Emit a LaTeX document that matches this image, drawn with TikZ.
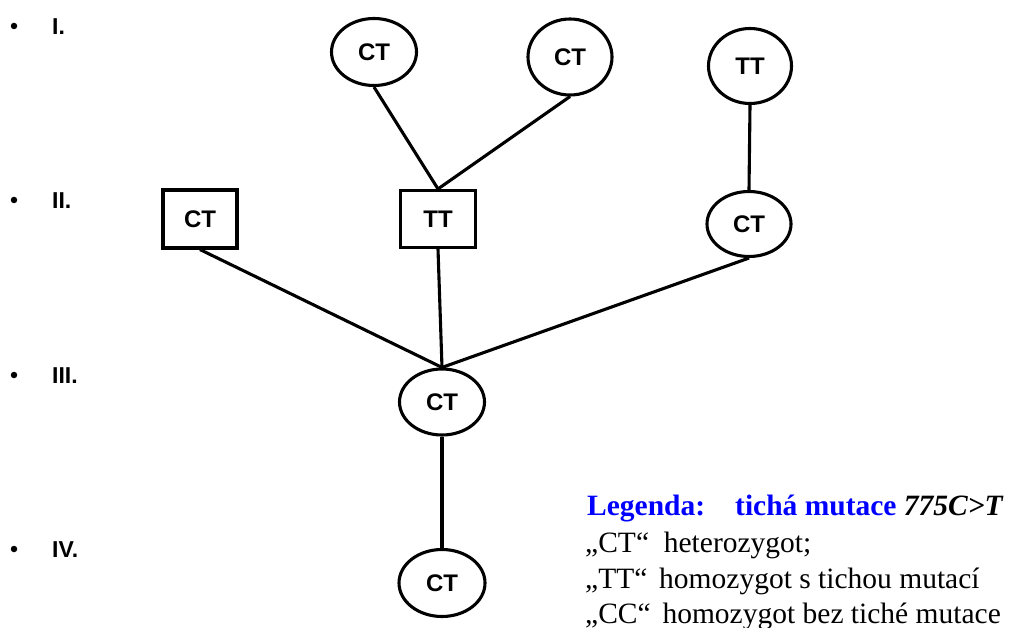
\documentclass[tikz,border=0pt]{standalone}
\usepackage{fontspec}
\setmainfont{Liberation Serif}
\newfontfamily\arialfont{Liberation Sans}
\usetikzlibrary{shapes.geometric}
\definecolor{legblue}{RGB}{0,0,255}
\tikzset{
  person/.style={draw, line width=3.1pt, inner sep=0pt,
    font=\arialfont\bfseries\fontsize{24}{28}\selectfont},
  female/.style={person, ellipse},
  male/.style={person, rectangle},
  link/.style={line width=3.1pt},
  gen/.style={font=\arialfont\bfseries\fontsize{23}{27}\selectfont, anchor=west, inner sep=0pt},
  bul/.style={circle, fill, inner sep=0pt, minimum size=6.5pt},
  leg/.style={font=\fontsize{29.5}{37}\selectfont, anchor=base west, inner sep=0pt},
}
\begin{document}
\begin{tikzpicture}[x=1pt,y=-1pt]
\useasboundingbox (0,0) rectangle (1011,628);
% generation labels
\node[bul] (b1) at (14,26) {};
\node[gen] (g1) at (52,27) {I.};
\node[bul] (b2) at (14,200) {};
\node[gen] (g2) at (52,201) {II.};
\node[bul] (b3) at (14,375) {};
\node[gen] (g3) at (52,376) {III.};
\node[bul] (b4) at (14,549) {};
\node[gen] (g4) at (52,550) {IV.};
% persons
\node[female, minimum width=85pt, minimum height=67pt] (i1) at (374,52) {CT};
\node[female, minimum width=84pt, minimum height=76pt] (i2) at (570,57) {CT};
\node[female, minimum width=83pt, minimum height=75pt] (i3) at (750,66) {TT};
\node[male, minimum width=74pt, minimum height=58pt] (ii1) at (200,219) {CT};
\node[male, minimum width=75pt, minimum height=57pt] (ii2) at (438,219) {TT};
\node[female, minimum width=84pt, minimum height=65pt] (ii3) at (749,224) {CT};
\node[female, minimum width=85pt, minimum height=66pt] (iii) at (442,402) {CT};
\node[female, minimum width=86pt, minimum height=67pt] (iv) at (442,583) {CT};
% connectors
\draw[link] (i1.south) -- (ii2.north);
\draw[link] (i2.south) -- (ii2.north);
\draw[link] (i3.south) -- (ii3.north);
\draw[link] (ii1.south) -- (iii.north);
\draw[link] (ii2.south) -- (iii.north);
\draw[link] (ii3.south) -- (iii.north);
\draw[link] (iii.south) -- (iv.north);
% legend
\node[leg] (l0) at (587,515) {\bfseries\textcolor{legblue}{Legenda:\hspace*{30pt}tichá mutace} \textit{775C>T}};
\node[leg] (l1) at (585,552) {„CT“\hspace*{0.5em}heterozygot;};
\node[leg] (l2) at (585,588) {„TT“\hspace*{0.4em}homozygot s tichou mutací};
\node[leg] (l3) at (585,623) {„CC“\hspace*{0.4em}homozygot bez tiché mutace};
\end{tikzpicture}
\end{document}
